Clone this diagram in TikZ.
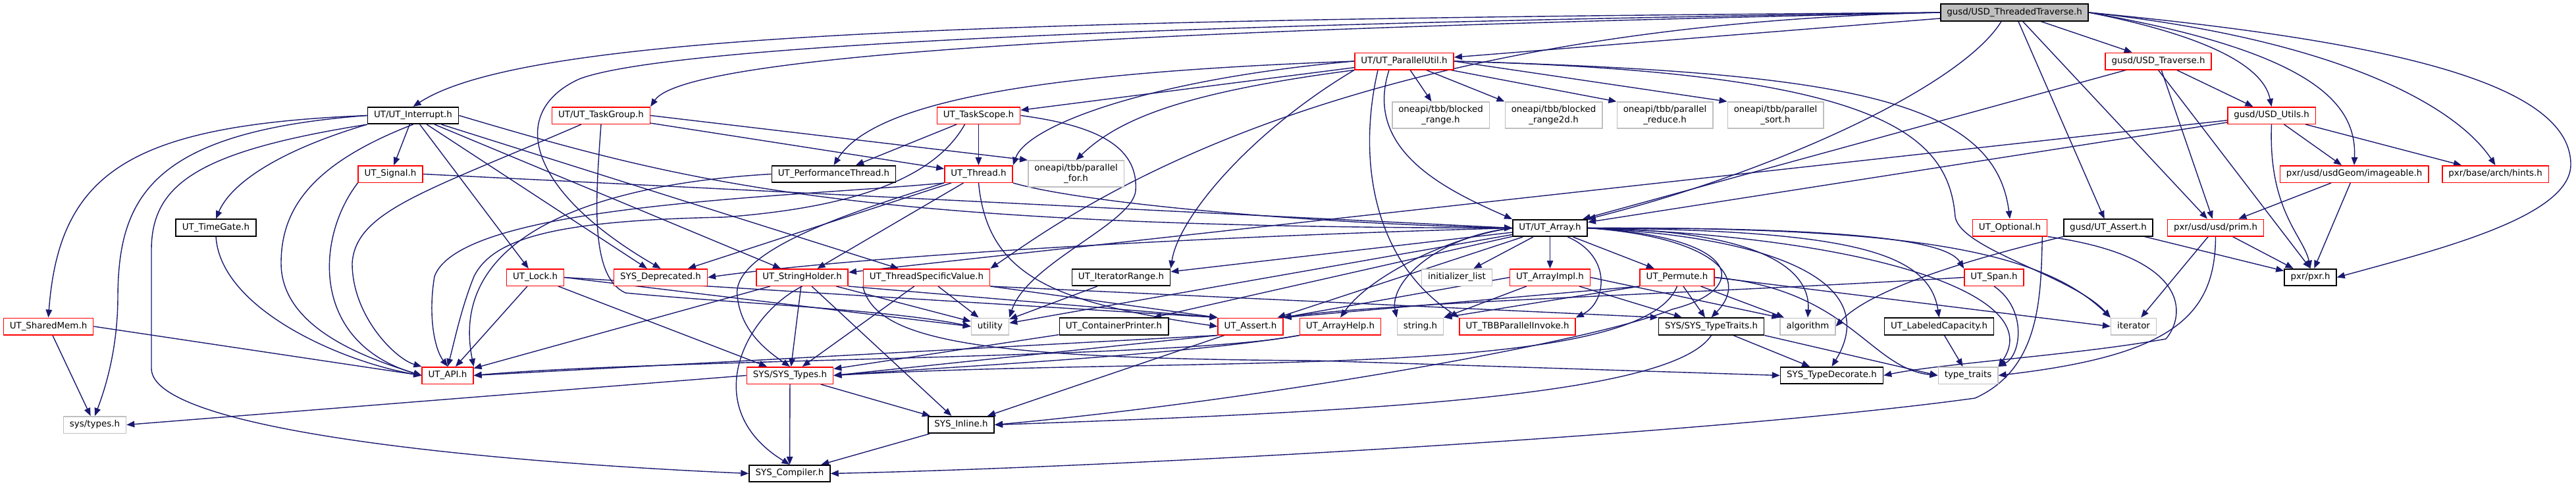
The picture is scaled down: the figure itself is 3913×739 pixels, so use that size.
\documentclass[tikz,border=0pt]{standalone}
\usepackage{fontspec}
\setmainfont{DejaVu Sans}
\usetikzlibrary{arrows.meta}
\definecolor{edgec}{HTML}{191970}
\definecolor{nred}{HTML}{FF0000}
\definecolor{ngray}{HTML}{BFBFBF}
\pgfdeclarelayer{bg}
\pgfsetlayers{bg,main}
\tikzset{
  boxbase/.style={rectangle, fill=white, inner xsep=9.5pt, inner ysep=0pt, font=\fontsize{13.4pt}{15.5pt}\selectfont},
  one/.style={boxbase, minimum height=25.5pt, text height=9.8pt, text depth=3.2pt},
  nb/.style={one, draw=black, line width=1.7pt},
  nr/.style={one, draw=nred, line width=1.5pt},
  ng/.style={one, draw=ngray, line width=1.5pt},
  ng2/.style={boxbase, align=center, minimum height=40pt, draw=ngray, line width=1.5pt},
  edg/.style={draw=edgec, line width=1.4pt, -{Triangle[length=12pt,width=9.5pt]}},
}
\begin{document}
\begin{tikzpicture}[x=1pt,y=-1pt]
\useasboundingbox (0,0) rectangle (3913,739);
% nodes
\node[nb,fill=ngray] (R) at (3060,19) {gusd/USD\_ThreadedTraverse.h};
\node[nr] (PU) at (2133,93) {UT/UT\_ParallelUtil.h};
\node[nr] (TR) at (3278.5,93) {gusd/USD\_Traverse.h};
\node[nb] (INT) at (627.5,175.5) {UT/UT\_Interrupt.h};
\node[nr] (TG) at (913,175.5) {UT/UT\_TaskGroup.h};
\node[nr] (TS) at (1486.5,175.5) {UT\_TaskScope.h};
\node[ng2] (BR) at (2188.5,175) {oneapi/tbb/blocked\\\_range.h};
\node[ng2] (BRB) at (2360,175) {oneapi/tbb/blocked\\\_range2d.h};
\node[ng2] (PR) at (2529,175) {oneapi/tbb/parallel\\\_reduce.h};
\node[ng2] (PS) at (2697,175) {oneapi/tbb/parallel\\\_sort.h};
\node[nr] (UU) at (3450.5,175.5) {gusd/USD\_Utils.h};
\node[nr] (SIG) at (593,264.5) {UT\_Signal.h};
\node[nb] (PT) at (1266.5,264.5) {UT\_PerformanceThread.h};
\node[nr] (TH) at (1486.5,264.5) {UT\_Thread.h};
\node[ng2] (PF) at (1634.5,264) {oneapi/tbb/parallel\\\_for.h};
\node[nr] (IMG) at (3576,264.5) {pxr/usd/usdGeom/imageable.h};
\node[nr] (HINTS) at (3790.5,264.5) {pxr/base/arch/hints.h};
\node[nb] (TGATE) at (328,346) {UT\_TimeGate.h};
\node[nb] (ARR) at (2354.5,346.5) {UT/UT\_Array.h};
\node[nr] (OPT) at (3053,346) {UT\_Optional.h};
\node[nb] (GA) at (3202.5,346) {gusd/UT\_Assert.h};
\node[nr] (PRIM) at (3365.5,346) {pxr/usd/usd/prim.h};
\node[nr] (LOCK) at (813,421.5) {UT\_Lock.h};
\node[nr] (DEP) at (1003.5,421.5) {SYS\_Deprecated.h};
\node[nr] (SH) at (1218.5,421.5) {UT\_StringHolder.h};
\node[nr] (TSV) at (1407.5,421.5) {UT\_ThreadSpecificValue.h};
\node[nb] (IR) at (1703,421.5) {UT\_IteratorRange.h};
\node[ng] (IL) at (2213,421.5) {initializer\_list};
\node[nr] (AI) at (2354.5,421.5) {UT\_ArrayImpl.h};
\node[nr] (PERM) at (2547.5,421.5) {UT\_Permute.h};
\node[nr] (SPAN) at (3029,421.5) {UT\_Span.h};
\node[nb] (PXR) at (3509.5,421.5) {pxr/pxr.h};
\node[nr] (SHM) at (73.5,496) {UT\_SharedMem.h};
\node[ng] (UTIL) at (1504,496) {utility};
\node[nb] (CP) at (1692,496) {UT\_ContainerPrinter.h};
\node[nr] (UA) at (1899.5,496) {UT\_Assert.h};
\node[nr] (AH) at (2036,496) {UT\_ArrayHelp.h};
\node[ng] (STR) at (2157.5,496) {string.h};
\node[nr] (TBB) at (2305,496) {UT\_TBBParallelInvoke.h};
\node[nb] (TT) at (2599.5,496) {SYS/SYS\_TypeTraits.h};
\node[ng] (ALG) at (2746,496) {algorithm};
\node[nb] (LC) at (2945.5,496) {UT\_LabeledCapacity.h};
\node[ng] (ITER) at (3241,496) {iterator};
\node[nr] (API) at (680,570.5) {UT\_API.h};
\node[nr] (TYP) at (1200,570.5) {SYS/SYS\_Types.h};
\node[nb] (TD) at (2782.5,570.5) {SYS\_TypeDecorate.h};
\node[ng] (TTR) at (2989.5,570.5) {type\_traits};
\node[ng] (SYST) at (144,645.5) {sys/types.h};
\node[nb] (INL) at (1460,645.5) {SYS\_Inline.h};
\node[nb] (COMP) at (1199.5,719.5) {SYS\_Compiler.h};

\begin{pgfonlayer}{bg}
% root
\draw[edg] (R.west) .. controls (1500,30) and (800,50) .. (INT.north);
\draw[edg] (R.west) .. controls (2000,40) and (1050,70) .. (TG.north east);
\draw[edg] (R.west) .. controls (2200,30) and (1050,55) .. (880,120) .. controls (770,170) and (800,290) .. (DEP.north);
\draw[edg] (R.west) .. controls (2000,40) and (1620,330) .. (TSV.north east);
\draw[edg] (R) -- (PU);
\draw[edg] (R) -- (TR);
\draw[edg] ([xshift=-20pt]R.south) .. controls (2980,130) and (2700,260) .. (ARR.north east);
\draw[edg] (R) -- (GA);
\draw[edg] (R) -- (PRIM);
\draw[edg] (R.east) .. controls (3380,60) and (3440,110) .. (UU.north);
\draw[edg] (R.east) .. controls (3520,80) and (3580,160) .. (IMG.north);
\draw[edg] (R.east) .. controls (3550,60) and (3730,160) .. (HINTS.north);
\draw[edg] (R.east) .. controls (3600,60) and (3905,120) .. (3905,250) .. controls (3905,330) and (3700,380) .. (PXR.east);
% traverse
\draw[edg] (TR) -- (UU);
\draw[edg] (TR) -- (PRIM);
\draw[edg] (TR.south) -- (PXR.north);
\draw[edg] (TR) -- (ARR);
% utils
\draw[edg] (UU) -- (IMG);
\draw[edg] (UU) -- (HINTS);
\draw[edg] (UU.south) .. controls (3445,320) and (3500,360) .. (PXR.north);
\draw[edg] (UU) -- (ARR);
\draw[edg] (UU) -- (SH);
% imageable, prim, gusd assert, optional
\draw[edg] (IMG) -- (PRIM);
\draw[edg] (IMG) -- (PXR);
\draw[edg] (PRIM) -- (PXR);
\draw[edg] (PRIM) -- (ITER);
\draw[edg] (PRIM.south) .. controls (3365,480) and (3300,540) .. (TTR.east);
\draw[edg] (GA) -- (PXR);
\draw[edg] (GA.south west) .. controls (3050,380) and (2850,430) .. (ALG.east);
\draw[edg] (OPT.south east) .. controls (3330,390) and (3320,480) .. (3290,515) .. controls (3150,540) and (2950,552) .. (TD.east);
\draw[edg] ([xshift=-8pt]OPT.south east) .. controls (3100,450) and (3100,560) .. (3000,605) .. controls (2600,660) and (1700,710) .. (COMP.east);
% parallel util
\draw[edg] (PU) -- (TS);
\draw[edg] (PU.west) .. controls (1600,110) and (1330,150) .. (PT.north);
\draw[edg] (PU.west) .. controls (1750,120) and (1560,190) .. (TH.north east);
\draw[edg] (PU.south west) .. controls (1800,140) and (1700,180) .. (PF.north);
\draw[edg] (PU) -- (BR);
\draw[edg] (PU) -- (BRB.north west);
\draw[edg] (PU) -- (PR.north west);
\draw[edg] (PU.east) -- (PS.north west);
\draw[edg] ([xshift=-23pt]PU.south) .. controls (2070,230) and (2200,290) .. (ARR.north west);
\draw[edg] ([xshift=-40pt]PU.south) .. controls (2060,250) and (2090,400) .. (TBB.north west);
\draw[edg] (PU.south west) .. controls (1900,200) and (1790,330) .. (IR.north east);
\draw[edg] (PU.east) .. controls (2800,110) and (3030,150) .. (OPT.north);
\draw[edg] (PU.east) .. controls (2850,110) and (2960,200) .. (2970,330) .. controls (2980,380) and (3150,420) .. (ITER.north west);
% interrupt
\draw[edg] (INT.west) .. controls (200,190) and (90,260) .. (SHM.north);
\draw[edg] (INT.west) .. controls (230,200) and (180,300) .. (179,450) .. controls (179,530) and (160,590) .. (SYST.north);
\draw[edg] (INT.south west) .. controls (300,230) and (230,280) .. (230,380) -- (230,560) .. controls (230,650) and (700,700) .. (COMP.west);
\draw[edg] (INT.south west) .. controls (420,230) and (350,280) .. (TGATE.north);
\draw[edg] (INT.south) .. controls (470,250) and (427,320) .. (427,400) .. controls (427,500) and (560,545) .. (API.west);
\draw[edg] (INT) -- (SIG);
\draw[edg] (INT) -- (LOCK);
\draw[edg] (INT) -- (DEP);
\draw[edg] (INT) -- (SH);
\draw[edg] (INT) -- (TSV);
\draw[edg] (INT.east) .. controls (1050,280) and (1300,345) .. (ARR.west);
% signal, timegate, sharedmem
\draw[edg] (SIG.south west) .. controls (480,360) and (470,520) .. (API.west);
\draw[edg] (SIG.east) -- (ARR.west);
\draw[edg] (TGATE.south) .. controls (335,470) and (520,550) .. (API.west);
\draw[edg] (SHM.east) -- (API.west);
\draw[edg] (SHM) -- (SYST);
% taskgroup
\draw[edg] ([xshift=-30pt]TG.south) .. controls (650,290) and (540,320) .. (535,400) .. controls (535,480) and (600,545) .. (API.north west);
\draw[edg] (TG) -- (TH);
\draw[edg] (TG.east) -- (PF.north west);
\draw[edg] (TG.south) .. controls (905,300) and (895,420) .. (950,445) .. controls (1100,460) and (1350,470) .. (UTIL.west);
% taskscope
\draw[edg] (TS) -- (PT);
\draw[edg] (TS) -- (TH);
\draw[edg] ([xshift=-21pt]TS.south) .. controls (1420,270) and (1300,315) .. (1100,330) .. controls (850,335) and (750,360) .. (720,420) .. controls (700,470) and (690,520) .. (API.north);
\draw[edg] (TS.east) .. controls (1660,190) and (1730,220) .. (1725,290) .. controls (1720,340) and (1560,400) .. (UTIL.north east);
% performance thread
\draw[edg] (PT.west) .. controls (900,280) and (680,360) .. (API.north east);
% thread
\draw[edg] (TH.south east) .. controls (1650,310) and (2000,340) .. (ARR.west);
\draw[edg] (TH.south) .. controls (1500,420) and (1600,460) .. (UA.west);
\draw[edg] (TH) -- (SH);
\draw[edg] (TH.south west) .. controls (1200,300) and (700,310) .. (660,420) .. controls (650,480) and (660,530) .. (API.north);
\draw[edg] (TH) -- (DEP);
\draw[edg] (TH.south west) .. controls (1300,320) and (1110,380) .. (1120,450) .. controls (1125,500) and (1160,530) .. (TYP.north);
% lock
\draw[edg] (LOCK) -- (API);
\draw[edg] (LOCK) -- (TYP);
\draw[edg] (LOCK.east) -- (UA.north west);
\draw[edg] (LOCK.east) -- (UTIL.west);
% string holder
\draw[edg] (SH) -- (API);
\draw[edg] (SH) -- (TYP);
\draw[edg] (SH) -- (INL);
\draw[edg] (SH.south) .. controls (1130,480) and (1060,620) .. (COMP.north);
\draw[edg] (SH) -- (UTIL);
\draw[edg] (SH.south east) -- (UA.north west);
% thread specific value
\draw[edg] (TSV) -- (TYP);
\draw[edg] (TSV) -- (UTIL);
\draw[edg] (TSV.south east) -- (UA.north west);
\draw[edg] (TSV.south west) .. controls (1330,520) and (1500,545) .. (2000,548) -- (TD.west);
\draw[edg] (TSV.south east) -- (TT.north west);
% iterator range, container printer, assert, arrayhelp
\draw[edg] (IR) -- (UTIL);
\draw[edg] (CP) -- (TYP);
\draw[edg] (UA.south west) -- (API.east);
\draw[edg] (UA.south west) -- (TYP.east);
\draw[edg] (UA) -- (INL);
\draw[edg] (AH.south west) .. controls (1800,540) and (1400,560) .. (TYP.east);
\draw[edg] (AH.south west) .. controls (1800,545) and (1000,545) .. (API.east);
% type traits, labeled capacity, span
\draw[edg] (TT) -- (TD);
\draw[edg] (TT.south east) -- (TTR.west);
\draw[edg] (TT.south) .. controls (2540,600) and (2100,625) .. (INL.east);
\draw[edg] (LC) -- (TTR);
\draw[edg] (SPAN.south) .. controls (3080,470) and (3070,540) .. (TTR.north east);
\draw[edg] (SPAN.west) .. controls (2600,445) and (2100,460) .. (UA.north east);
% array impl
\draw[edg] (AI.west) -- (UA.north east);
\draw[edg] (AI) -- (STR);
\draw[edg] (AI) -- (TT);
\draw[edg] (AI.east) -- (ALG.north west);
% permute
\draw[edg] (PERM.south west) -- (UA.north east);
\draw[edg] (PERM.south west) -- (STR.north east);
\draw[edg] (PERM) -- (TT);
\draw[edg] (PERM) -- (ALG);
\draw[edg] (PERM.east) .. controls (2810,440) and (2840,560) .. (TTR.west);
\draw[edg] (PERM.east) -- (ITER.west);
\draw[edg] (PERM.south) .. controls (2490,580) and (1800,540) .. (TYP.east);
% array
\draw[edg] (ARR.west) .. controls (1800,360) and (1300,390) .. (DEP.east);
\draw[edg] (ARR) -- (IR);
\draw[edg] (ARR) -- (UTIL);
\draw[edg] (ARR) -- (CP);
\draw[edg] (ARR) -- (UA);
\draw[edg] (ARR.west) .. controls (2200,360) and (2080,420) .. (AH.north);
\draw[edg] (ARR.west) .. controls (2180,360) and (2110,430) .. (STR.north west);
\draw[edg] ([xshift=27pt]ARR.south) .. controls (2450,390) and (2440,460) .. (TBB.north east);
\draw[edg] (ARR) -- (IL);
\draw[edg] (ARR) -- (AI);
\draw[edg] (ARR) -- (PERM);
\draw[edg] (ARR.east) .. controls (2600,360) and (2660,420) .. (TT.north);
\draw[edg] (ARR.east) .. controls (2700,350) and (2750,420) .. (ALG.north);
\draw[edg] (ARR.east) .. controls (2800,350) and (2930,380) .. (LC.north);
\draw[edg] (ARR.east) .. controls (2850,345) and (2960,370) .. (SPAN.north west);
\draw[edg] (ARR.east) .. controls (2700,360) and (2860,430) .. (TD.north);
\draw[edg] (ARR.east) .. controls (2850,360) and (3110,450) .. (TTR.north east);
\draw[edg] (ARR.east) .. controls (2900,345) and (3100,380) .. (ITER.north west);
\draw[edg] (ARR.east) .. controls (2650,360) and (2660,440) .. (2540,470) .. controls (2420,520) and (1900,610) .. (INL.east);
% sys types, inline
\draw[edg] (TYP.west) -- (SYST.east);
\draw[edg] (TYP) -- (INL);
\draw[edg] (TYP) -- (COMP);
\draw[edg] (INL) -- (COMP);
\end{pgfonlayer}
\end{tikzpicture}
\end{document}
